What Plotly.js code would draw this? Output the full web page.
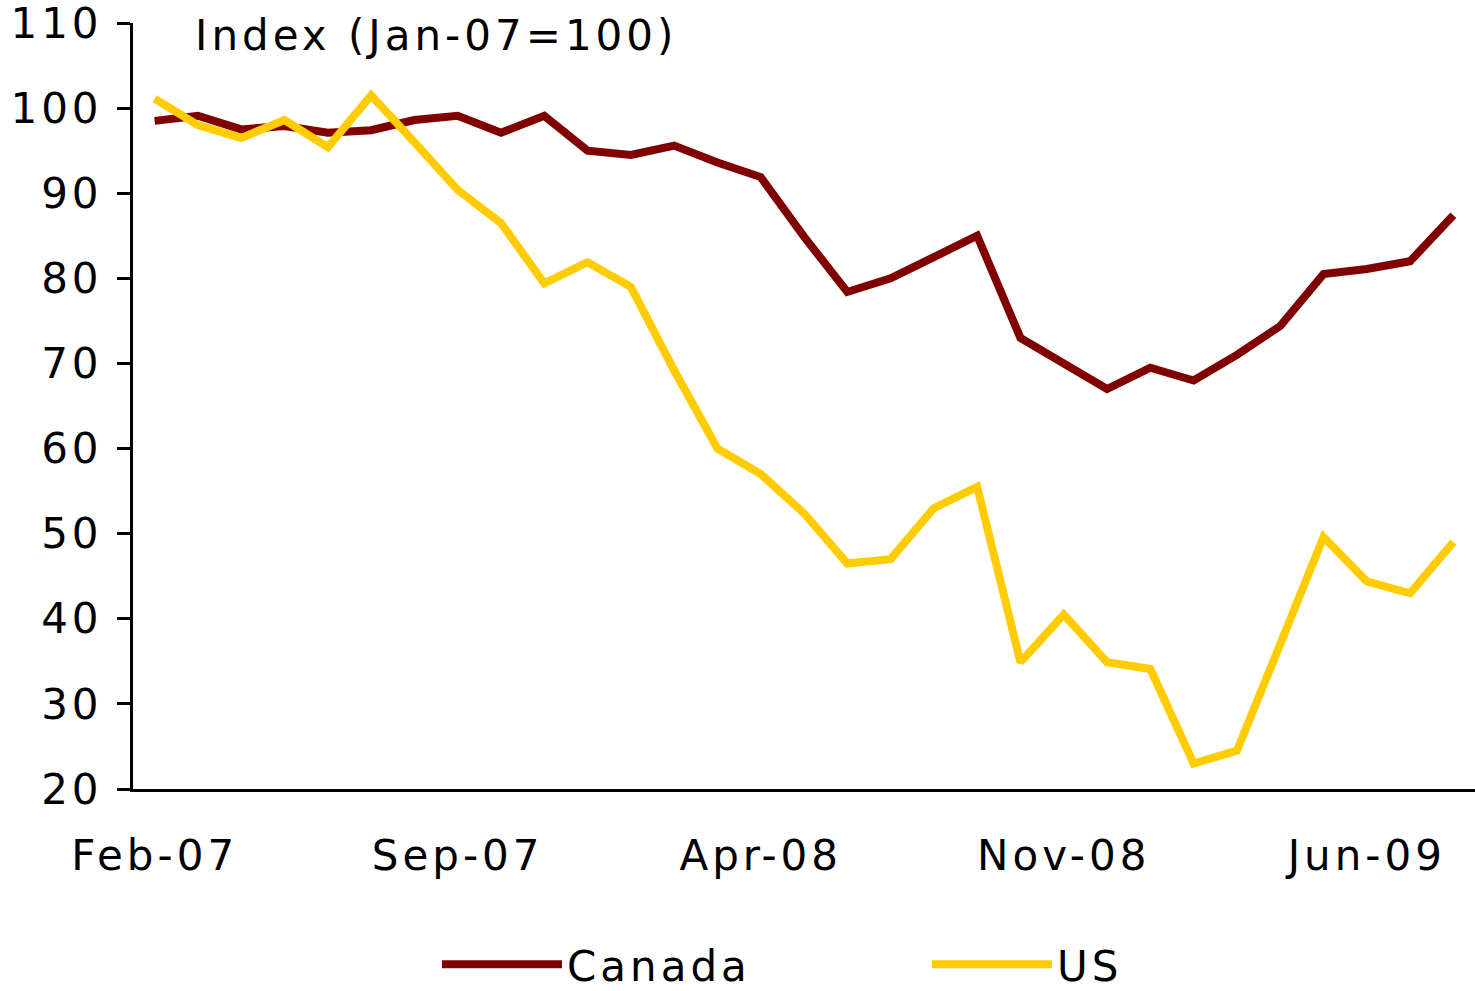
<!DOCTYPE html>
<html>
<head>
<meta charset="utf-8">
<script src="https://cdn.plot.ly/plotly-3.0.1.min.js"></script>
<style>
html, body { margin: 0; padding: 0; background: #ffffff; }
#chart { width: 1475px; height: 991px; }
.main-svg text { letter-spacing: 4px; }
</style>
</head>
<body>
<div id="chart"></div>
<script>
const months = ['Feb-07','Mar-07','Apr-07','May-07','Jun-07','Jul-07','Aug-07','Sep-07','Oct-07','Nov-07','Dec-07',
  'Jan-08','Feb-08','Mar-08','Apr-08','May-08','Jun-08','Jul-08','Aug-08','Sep-08','Oct-08','Nov-08','Dec-08',
  'Jan-09','Feb-09','Mar-09','Apr-09','May-09','Jun-09','Jul-09','Aug-09'];

const canada = [98.5, 99.1, 97.5, 97.9, 97.1, 97.4, 98.6, 99.1, 97.1, 99.1, 95.0,
  94.5, 95.6, 93.6, 91.9, 84.9, 78.4, 80.0, 82.5, 85.0, 73.0, 70.0, 67.0,
  69.5, 68.0, 71.0, 74.4, 80.5, 81.1, 82.0, 87.4];

const us = [101.1, 98.0, 96.5, 98.6, 95.4, 101.5, 96.0, 90.4, 86.5, 79.4, 81.9,
  79.0, 69.2, 60.0, 57.0, 52.4, 46.5, 47.0, 53.0, 55.5, 34.9, 40.5, 34.9,
  34.1, 23.0, 24.5, 37.0, 49.6, 44.4, 43.0, 49.0];

const labelMonths = ['Feb-07','Sep-07','Apr-08','Nov-08','Jun-09'];
const tickMarkPositions = [-0.5, 3.5, 7.5, 11.5, 15.5, 19.5, 23.5, 27.5];
const yTicks = [20, 30, 40, 50, 60, 70, 80, 90, 100, 110];

const FONT = 'DejaVu Sans, Verdana, sans-serif';

const traces = [
  { x: months, y: canada, name: 'Canada', type: 'scatter', mode: 'lines',
    line: { color: '#800000', width: 8 }, hoverinfo: 'skip' },
  { x: months, y: us, name: 'US', type: 'scatter', mode: 'lines',
    line: { color: '#FFCC00', width: 8 }, hoverinfo: 'skip' }
];

const layout = {
  width: 1475, height: 991,
  paper_bgcolor: '#ffffff', plot_bgcolor: '#ffffff',
  margin: { l: 133, r: 0, t: 23, b: 202, autoexpand: false },
  font: { family: FONT, size: 42, color: '#000000' },
  title: { text: 'Index (Jan-07=100)', x: 195/1475, xanchor: 'left', xref: 'container',
           y: 1 - 35/991, yanchor: 'middle', yref: 'container',
           font: { family: FONT, size: 42, color: '#000000' } },
  showlegend: true,
  legend: { orientation: 'h', x: 0.2265, xanchor: 'left', y: -0.229, yanchor: 'middle',
            entrywidth: 355, entrywidthmode: 'pixels', itemwidth: 120,
            font: { family: FONT, size: 42, color: '#000000' },
            bgcolor: 'rgba(0,0,0,0)' },
  xaxis: {
    type: 'category', categoryorder: 'array', categoryarray: months,
    range: [-0.5, 30.5], tickmode: 'array', tickvals: labelMonths, ticktext: labelMonths,
    ticks: '', showline: true, linecolor: '#000000', linewidth: 3,
    showgrid: false, zeroline: false, ticklabelstandoff: 28,
    tickfont: { family: FONT, size: 42, color: '#000000' }, fixedrange: true
  },
  xaxis2: {
    overlaying: 'x', anchor: 'y', side: 'bottom', type: 'linear',
    range: [-0.5, 30.5], tickmode: 'array', tickvals: tickMarkPositions,
    ticks: 'outside', ticklen: 12, tickwidth: 3, tickcolor: '#000000',
    showticklabels: false, showline: false, showgrid: false, zeroline: false, fixedrange: true
  },
  yaxis: {
    range: [20, 110], tickmode: 'array', tickvals: yTicks,
    ticks: 'outside', ticklen: 13, tickwidth: 3, tickcolor: '#000000',
    showline: true, linecolor: '#000000', linewidth: 3,
    showgrid: false, zeroline: false, ticklabelstandoff: 6, ticklabeloverflow: 'allow',
    tickfont: { family: FONT, size: 42, color: '#000000' }, fixedrange: true
  }
};

Plotly.newPlot('chart', traces, layout, { displayModeBar: false, staticPlot: true });
</script>
</body>
</html>
